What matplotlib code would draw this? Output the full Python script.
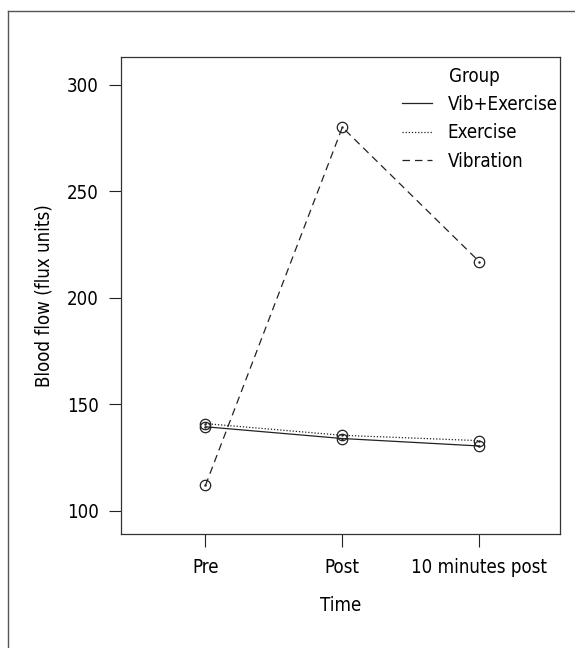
import matplotlib.pyplot as plt
from matplotlib import font_manager
from matplotlib.lines import Line2D

# narrow font like the original; take what is installed
fonts = font_manager.fontManager.ttflist
names = {f.name for f in fonts}
stretch = 'normal'
if 'Liberation Sans Narrow' in names:
    family = 'Liberation Sans Narrow'
elif any(f.name == 'DejaVu Sans' and f.stretch == 'condensed' for f in fonts):
    family = 'DejaVu Sans'
    stretch = 'condensed'
elif 'Roboto Condensed' in names:
    family = 'Roboto Condensed'
else:
    family = 'Roboto'
plt.rcParams['font.family'] = [family, 'DejaVu Sans']
plt.rcParams['font.stretch'] = stretch

# data
time_labels = ['Pre', 'Post', '10 minutes post']
groups = ['Vib+Exercise', 'Exercise', 'Vibration']
vib_exercise = [139.5, 134.0, 130.5]
exercise = [141.0, 135.5, 133.0]
vibration = [112.0, 280.0, 217.0]

series = [vib_exercise, exercise, vibration]
styles = ['-', (0, (1, 1.5)), (0, (6, 4))]
ink = '#222222'
fs = 13.4

fig = plt.figure(figsize=(5.75, 6.48), dpi=100)
ax = fig.add_axes([121 / 575, 1 - 534 / 648, (560 - 121) / 575, (534 - 57) / 648])

x = [1, 2, 3]
for vals, ls, name in zip(series, styles, groups):
    ax.plot(x, vals, linestyle=ls, color=ink, linewidth=0.9, label=name)
    ax.plot(x, vals, linestyle='none', marker='o', markersize=7.5,
            markerfacecolor='none', markeredgecolor=ink, markeredgewidth=0.9)
    ax.plot(x, vals, linestyle='none', marker='.', markersize=1.5, color=ink)

ax.set_xlim(0.383, 3.59)
ax.set_ylim(89.2, 313)
ax.set_xticks(x)
ax.set_xticklabels(time_labels)
ax.set_yticks([100, 150, 200, 250, 300])
ax.tick_params(direction='out', length=9, width=0.8, color=ink,
               labelsize=fs, pad=8)
ax.tick_params(axis='y', pad=7)
for s in ax.spines.values():
    s.set_linewidth(0.9)
    s.set_color('#333333')

ax.set_xlabel('Time', fontsize=fs, labelpad=14)
ax.set_ylabel('Blood flow (flux units)', fontsize=fs, labelpad=10)

# legend in the R interaction.plot style
handles = [Line2D([], [], linestyle=ls, color=ink, linewidth=0.9) for ls in styles]
leg = ax.legend(handles, groups, loc='upper left',
                bbox_to_anchor=(402 / 575, 1 - 95 / 648),
                bbox_transform=fig.transFigure, frameon=False,
                fontsize=fs, handlelength=1.6, handletextpad=0.85,
                labelspacing=0.5, borderpad=0, borderaxespad=0)
fig.text(449 / 575, 1 - 77 / 648, 'Group', fontsize=fs, va='center', ha='left')

# partial outer frame of the figure panel
fig.add_artist(Line2D([8 / 575, 8 / 575], [0, 1 - 11 / 648],
                      transform=fig.transFigure, color='#555555', linewidth=1))
fig.add_artist(Line2D([8 / 575, 1], [1 - 11 / 648, 1 - 11 / 648],
                      transform=fig.transFigure, color='#555555', linewidth=1))

fig.savefig('out.png', dpi=100)
